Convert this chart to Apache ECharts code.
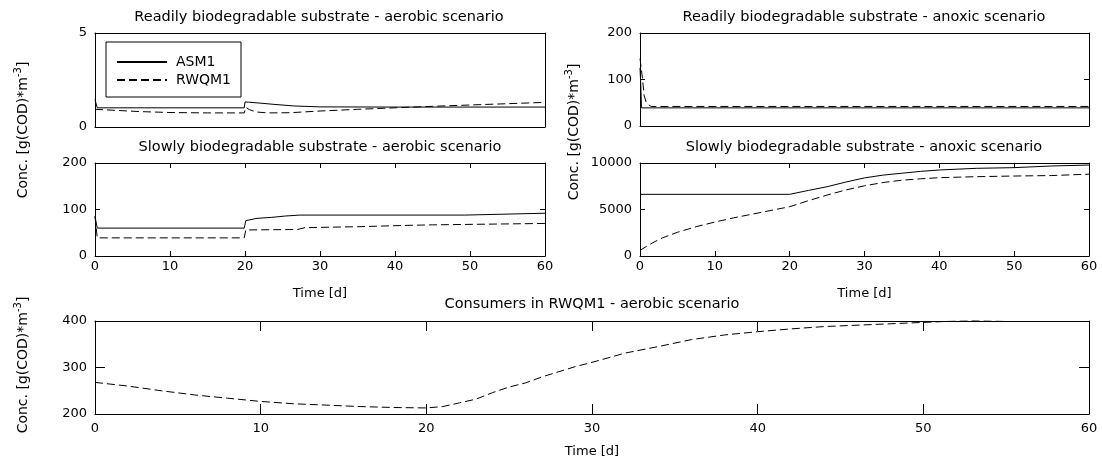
<!DOCTYPE html>
<html><head><meta charset="utf-8">
<script src="https://cdn.jsdelivr.net/npm/echarts@6/dist/echarts.min.js"></script>
<style>html,body{margin:0;padding:0;background:#fff}#c{width:1102px;height:466px}</style>
</head><body><div id="c"></div>
<script>
// ---------- data ----------
const titles = [
  'Readily biodegradable substrate - aerobic scenario',
  'Readily biodegradable substrate - anoxic scenario',
  'Slowly biodegradable substrate - aerobic scenario',
  'Slowly biodegradable substrate - anoxic scenario',
  'Consumers in RWQM1 - aerobic scenario'
];
const seriesNames = ['ASM1', 'RWQM1'];
const xLabel = 'Time [d]';
const xTicks = [0, 10, 20, 30, 40, 50, 60];
const yTicks = [[0, 5], [0, 100, 200], [0, 100, 200], [0, 5000, 10000], [200, 300, 400]];

// Readily biodegradable - aerobic
const tRA_asm = [0, 0.3, 19.9, 20.0, 20.5, 22, 24, 26.5, 30, 40, 50, 60];
const vRA_asm = [1.45, 1.02, 1.02, 1.33, 1.32, 1.27, 1.2, 1.12, 1.07, 1.06, 1.06, 1.06];
const tRA_rw = [0, 3, 6, 10, 15, 19.9, 20.1, 20.6, 21.5, 23, 26, 30, 35, 40, 45, 50, 55, 60];
const vRA_rw = [0.94, 0.88, 0.82, 0.77, 0.75, 0.75, 1.05, 0.92, 0.8, 0.75, 0.76, 0.85, 0.94, 1.02, 1.1, 1.17, 1.24, 1.31];

// Readily biodegradable - anoxic
const tRN_asm = [0, 0.1, 0.2, 60];
const vRN_asm = [125, 90, 39, 39];
const tRN_rw = [0, 0.2, 0.35, 0.55, 0.8, 1.1, 1.5, 60];
const vRN_rw = [145, 120, 99, 66, 52, 46, 42, 42];

// Slowly biodegradable - aerobic
const tSA_asm = [0, 0.3, 19.9, 20.1, 21.6, 23.5, 25.4, 27.3, 49.3, 49.5, 60];
const vSA_asm = [85, 60, 60, 76, 81, 83, 86, 88, 88, 92, 92];
const tSA_rw = [0, 0.3, 19.9, 20.1, 27, 28, 35, 42, 45, 60];
const vSA_rw = [85, 39, 39, 56, 57, 61, 63, 66, 67, 70];

// Slowly biodegradable - anoxic
const tSN_asm = [0, 20, 22.5, 25, 27.5, 30, 32.5, 35, 37.5, 40, 45, 50, 55, 60];
const vSN_asm = [6630, 6630, 7050, 7450, 7950, 8400, 8700, 8900, 9100, 9250, 9430, 9500, 9680, 9780];
const tSN_rw = [0, 1, 2, 3, 5, 7.5, 10, 12.5, 15, 17.5, 20, 22.5, 25, 27.5, 30, 32.5, 35, 37.5, 40, 45, 50, 55, 60];
const vSN_rw = [600, 1100, 1550, 1950, 2550, 3150, 3650, 4100, 4500, 4900, 5300, 5950, 6550, 7100, 7550, 7900, 8150, 8300, 8420, 8530, 8600, 8650, 8800];

// Consumers in RWQM1 - aerobic
const tC_rw = [0, 2, 4, 6, 8, 10, 12, 14, 16, 18, 20, 21, 22, 23, 24, 25, 26, 27, 28, 29, 30, 32, 34, 36, 38, 40, 42, 44, 46, 48, 50, 52, 54, 56, 58, 60];
const vC_rw = [268, 260, 250, 241, 234, 227, 222, 219, 216, 214, 213, 216, 224, 232, 246, 258, 267, 280, 291, 302, 311, 331, 345, 360, 370, 377, 383, 388, 391, 394, 397, 400, 402, 404, 405, 406];

// ---------- chart ----------
const zip = (t, v) => t.map((x, i) => [x, v[i]]);
const FONT = 'DejaVu Sans';
const grids = [
  {left: 95, top: 33, width: 450, height: 94},
  {left: 640, top: 33, width: 449, height: 93},
  {left: 95, top: 163, width: 450, height: 93},
  {left: 640, top: 163, width: 449, height: 93},
  {left: 95, top: 321, width: 994, height: 93}
];
const black = '#000';
const plain = v => String(v);
const xAxes = [], yAxes = [];
grids.forEach((g, i) => {
  const showX = i >= 2;
  const tl = i === 4 ? 10 : 5;
  const yt = yTicks[i];
  const common = {gridIndex: i, type: 'value', min: xTicks[0], max: xTicks[xTicks.length - 1], interval: xTicks[1] - xTicks[0],
    splitLine: {show: false}, axisLine: {show: true, onZero: false, lineStyle: {color: black, width: 1}},
    axisTick: {show: showX, inside: true, length: tl, lineStyle: {color: black}}};
  xAxes.push(Object.assign({}, common, {position: 'bottom',
    axisLabel: {show: showX, color: black, fontSize: 13, fontFamily: FONT, margin: i === 4 ? 8 : 4, formatter: plain},
    name: showX ? xLabel : '', nameLocation: 'middle', nameGap: 31,
    nameTextStyle: {color: black, fontSize: 13, fontFamily: FONT}}));
  xAxes.push(Object.assign({}, common, {position: 'top', axisLabel: {show: false}}));
  const yc = {gridIndex: i, type: 'value', min: yt[0], max: yt[yt.length - 1], interval: yt[1] - yt[0],
    splitLine: {show: false}, axisLine: {show: true, onZero: false, lineStyle: {color: black, width: 1}},
    axisTick: {show: true, inside: true, length: tl, lineStyle: {color: black}}};
  yAxes.push(Object.assign({}, yc, {position: 'left', axisLabel: {color: black, fontSize: 13, fontFamily: FONT, margin: 8, formatter: plain}}));
  yAxes.push(Object.assign({}, yc, {position: 'right', axisLabel: {show: false}}));
});

const dashType = [8, 4];
function mk(name, gi, data, dash) {
  return {name: name, type: 'line', xAxisIndex: 2 * gi, yAxisIndex: 2 * gi, data: data,
    symbol: 'none', showSymbol: false, animation: false, silent: true,
    itemStyle: {color: black},
    lineStyle: {color: black, width: 1, type: dash ? dashType : 'solid'}};
}
const series = [
  mk(seriesNames[0], 0, zip(tRA_asm, vRA_asm), false),
  mk(seriesNames[1], 0, zip(tRA_rw, vRA_rw), true),
  mk(seriesNames[0], 1, zip(tRN_asm, vRN_asm), false),
  mk(seriesNames[1], 1, zip(tRN_rw, vRN_rw), true),
  mk(seriesNames[0], 2, zip(tSA_asm, vSA_asm), false),
  mk(seriesNames[1], 2, zip(tSA_rw, vSA_rw), true),
  mk(seriesNames[0], 3, zip(tSN_asm, vSN_asm), false),
  mk(seriesNames[1], 3, zip(tSN_rw, vSN_rw), true),
  mk(seriesNames[1], 4, zip(tC_rw, vC_rw), true)
];

const titleCenters = [[319, 17], [864, 17], [320, 147], [864, 147], [592, 304]];
const graphics = titles.map((t, i) => ({type: 'text', x: titleCenters[i][0], y: titleCenters[i][1], silent: true,
  style: {text: t, align: 'center', verticalAlign: 'middle', fontSize: 14.5, fontFamily: FONT, fill: black}}));
const yLabelText = '{a|Conc. [g(COD)*m}{s|-3}{a|]}';
const yLabelRich = {a: {fontSize: 14, fontFamily: FONT, fill: black, lineHeight: 19},
  s: {fontSize: 10, fontFamily: FONT, fill: black, verticalAlign: 'top', lineHeight: 10}};
[[23, 130], [574, 132], [23, 365]].forEach(p => {
  graphics.push({type: 'text', x: p[0], y: p[1], rotation: Math.PI / 2, silent: true,
    style: {text: yLabelText, rich: yLabelRich, align: 'center', verticalAlign: 'middle', fill: black}});
});

const chart = echarts.init(document.getElementById('c'), null, {renderer: 'canvas'});
chart.setOption({
  animation: false,
  backgroundColor: '#fff',
  grid: grids.map(g => Object.assign({containLabel: false}, g)),
  xAxis: xAxes,
  yAxis: yAxes,
  legend: {data: seriesNames, orient: 'vertical', left: 106, top: 42, itemWidth: 50, itemHeight: 14, itemGap: 4,
    padding: [13, 10, 10, 10], backgroundColor: '#fff', borderColor: black, borderWidth: 1, borderRadius: 0,
    selectedMode: false, itemStyle: {opacity: 0},
    textStyle: {color: black, fontSize: 14, fontFamily: FONT, lineHeight: 14, padding: [0, 0, 0, 4]}},
  series: series,
  graphic: graphics
});
</script></body></html>
